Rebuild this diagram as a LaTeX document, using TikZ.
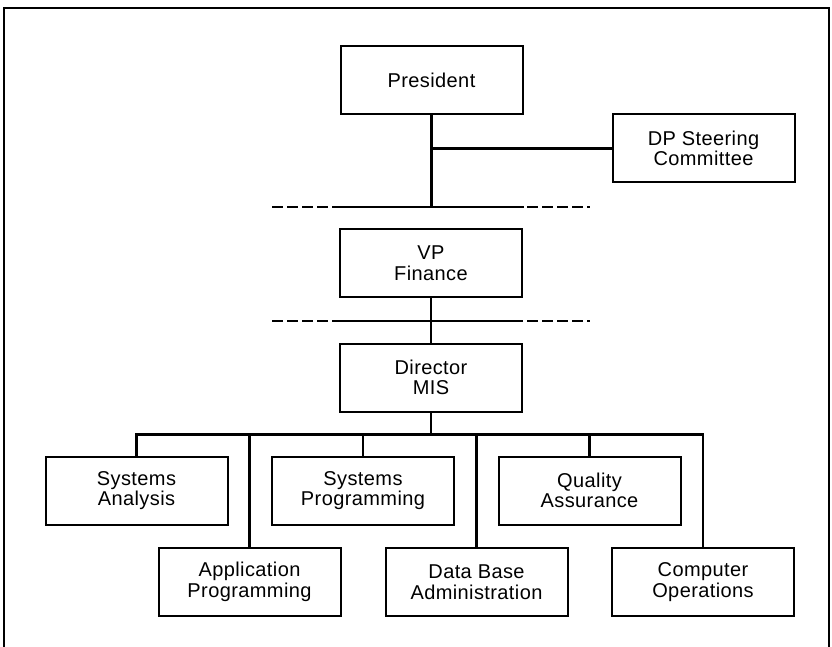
\documentclass[tikz,border=0pt]{standalone}
\usepackage{fontspec}
\setmainfont{Liberation Sans}[LetterSpace=2]
\begin{document}
\begin{tikzpicture}[x=1pt,y=-1pt,
  orgbox/.style={draw, line width=2pt, minimum width=182pt, minimum height=68pt,
    align=center, inner sep=0pt, font=\fontsize{20}{20.5}\selectfont},
  conn/.style={line width=2.4pt},
  dashline/.style={line width=2.4pt, dash pattern=on 11pt off 4pt},
  frameline/.style={line width=2.2pt}]
\useasboundingbox (0,0) rectangle (832,647);
% frame
\draw[frameline] (4,647) -- (4,8) -- (829,8) -- (829,647);
% boxes
\node[orgbox] (pres) at (431.5,80.5) {President};
\node[orgbox] (dp)   at (703.5,148.5) {DP Steering\\Committee};
\node[orgbox] (vp)   at (431,263) {VP\\Finance};
\node[orgbox] (dir)  at (431,377.5) {Director\\MIS};
\node[orgbox] (sa)   at (136.5,490.5) {Systems\\Analysis};
\node[orgbox] (sp)   at (363,490.5) {Systems\\Programming};
\node[orgbox] (qa)   at (589.5,490.5) {Quality\\Assurance};
\node[orgbox] (ap)   at (249.5,582) {Application\\Programming};
\node[orgbox] (dba)  at (476.5,582) {Data Base\\Administration};
\node[orgbox] (co)   at (703,582) {Computer\\Operations};
% dashed level lines
\coordinate (d1l) at (272,207); \coordinate (d1r) at (590,207);
\coordinate (d2l) at (272,321); \coordinate (d2r) at (590,321);
\draw[dashline] (d1l) -- (d1r);
\draw[dashline] (d2l) -- (d2r);
\draw[conn] (pres.south west |- d1l) -- (pres.south east |- d1l);
\draw[conn] (vp.south west |- d2l) -- (vp.south east |- d2l);
% connectors
\draw[conn] (pres.south) -- (pres.south |- d1l);
\draw[conn] (dp.west) -- (dp.west -| pres.south);
\draw[conn] (vp.south) -- (dir.north);
\draw[conn] (dir.south) -- ++(0,22) coordinate (bus);
\draw[conn] (bus) -| (sa.north);
\draw[conn] (bus) -| (sp.north);
\draw[conn] (bus) -| (qa.north);
\draw[conn] (bus) -| (ap.north);
\draw[conn] (bus) -| (dba.north);
\draw[conn] (bus) -| (co.north);
\end{tikzpicture}
\end{document}
